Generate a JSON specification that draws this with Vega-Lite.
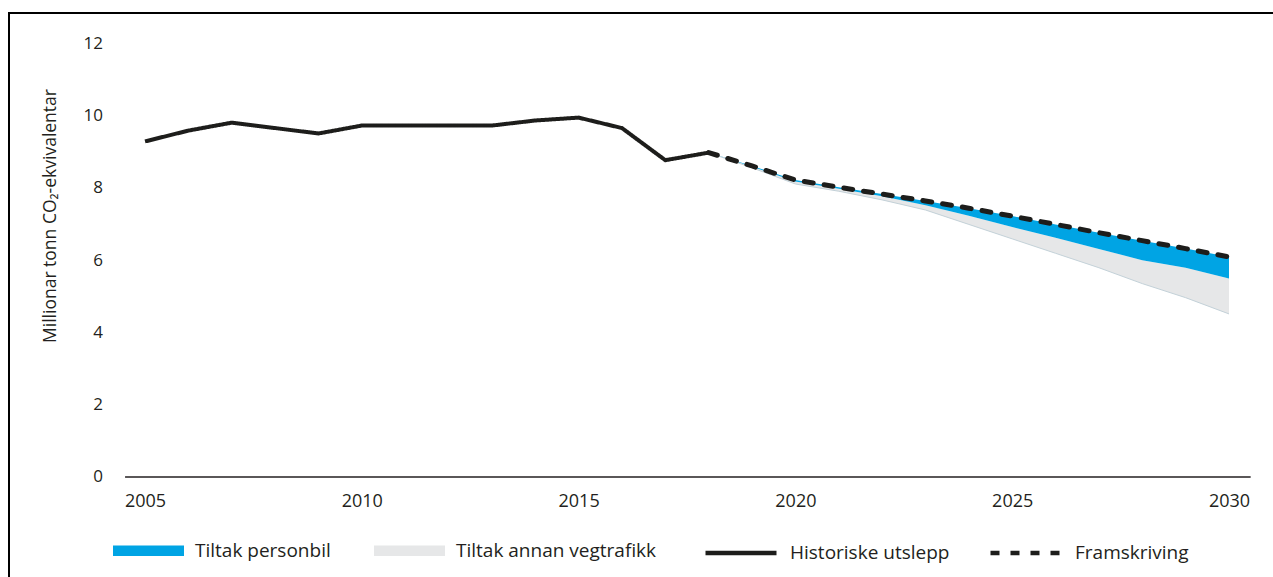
{
  "$schema": "https://vega.github.io/schema/vega-lite/v6.json",
  "width": 1264,
  "height": 564,
  "padding": {"left": 9, "top": 13, "right": 0, "bottom": 0},
  "autosize": {"type": "none"},
  "background": "white",
  "config": {
    "view": {"stroke": null},
    "font": "Open Sans",
    "axis": {"grid": false, "labelFont": "Open Sans", "titleFont": "Open Sans", "labelColor": "#231f20", "titleColor": "#231f20"},
    "legend": {"labelFont": "Open Sans", "labelFontSize": 19, "labelColor": "#231f20", "labelLimit": 400, "labelOffset": 11}
  },
  "datasets": {
    "hist": [
      {"year": 2005, "value": 9.3},
      {"year": 2006, "value": 9.6},
      {"year": 2007, "value": 9.82},
      {"year": 2008, "value": 9.67},
      {"year": 2009, "value": 9.52},
      {"year": 2010, "value": 9.74},
      {"year": 2011, "value": 9.74},
      {"year": 2012, "value": 9.74},
      {"year": 2013, "value": 9.74},
      {"year": 2014, "value": 9.88},
      {"year": 2015, "value": 9.96},
      {"year": 2016, "value": 9.67},
      {"year": 2017, "value": 8.78},
      {"year": 2018, "value": 8.99}
    ],
    "proj": [
      {"year": 2018, "hoy": 8.99, "midt": 8.99, "lav": 8.99},
      {"year": 2019, "hoy": 8.62, "midt": 8.6, "lav": 8.57},
      {"year": 2020, "hoy": 8.23, "midt": 8.19, "lav": 8.12},
      {"year": 2021, "hoy": 8.03, "midt": 7.99, "lav": 7.92},
      {"year": 2022, "hoy": 7.84, "midt": 7.78, "lav": 7.68},
      {"year": 2023, "hoy": 7.65, "midt": 7.53, "lav": 7.4},
      {"year": 2024, "hoy": 7.45, "midt": 7.24, "lav": 7.0},
      {"year": 2025, "hoy": 7.23, "midt": 6.93, "lav": 6.6},
      {"year": 2026, "hoy": 7.0, "midt": 6.63, "lav": 6.2},
      {"year": 2027, "hoy": 6.77, "midt": 6.32, "lav": 5.8},
      {"year": 2028, "hoy": 6.55, "midt": 6.01, "lav": 5.36},
      {"year": 2029, "hoy": 6.33, "midt": 5.8, "lav": 4.97},
      {"year": 2030, "hoy": 6.1, "midt": 5.5, "lav": 4.52}
    ],
    "base": [{"fra": 2004.54, "til": 2030.5, "null": 0}]
  },
  "resolve": {"axis": {"x": "independent"}},
  "layer": [
    {
      "data": {"name": "proj"},
      "mark": {"type": "area", "opacity": 1},
      "encoding": {
        "x": {"field": "year", "type": "quantitative",
          "scale": {"domain": [2001.863, 2031.015], "nice": false, "zero": false},
          "axis": {"orient": "top", "title": null, "labels": false, "ticks": false, "domain": true, "domainColor": "#000000", "domainWidth": 2, "domainCap": "square", "translate": 0, "grid": false}},
        "y": {"field": "lav", "type": "quantitative", "title": "Millionar tonn CO₂-ekvivalentar",
          "scale": {"domain": [-2.771, 12.859], "nice": false, "zero": false},
          "axis": {"orient": "left", "values": [0, 2, 4, 6, 8, 10, 12],
            "domain": true, "domainColor": "#000000", "domainWidth": 2, "domainCap": "square", "translate": 0,
            "ticks": false, "tickSize": 0, "labelPadding": -94, "labelAlign": "right", "labelBaseline": "middle", "labelFontSize": 17,
            "titleX": 42, "titleY": 203, "titleAngle": -90, "titleAlign": "center", "titleBaseline": "middle", "titleFontSize": 17.5, "titleFontWeight": "normal", "grid": false}},
        "y2": {"field": "midt"},
        "fill": {"datum": "Tiltak annan vegtrafikk", "type": "nominal",
          "scale": {"domain": ["Tiltak personbil", "Tiltak annan vegtrafikk"], "range": ["#00a4e4", "#e6e7e8"]},
          "legend": {"orient": "none", "legendX": 104, "legendY": 502, "direction": "horizontal", "columns": 2, "title": null,
            "symbolType": "M-1,-0.148H1V0.148H-1Z", "symbolSize": 5041, "symbolStrokeWidth": 0, "symbolOpacity": 1, "columnPadding": 43}
        }
      }
    },
    {
      "data": {"name": "proj"},
      "mark": {"type": "area", "opacity": 1},
      "encoding": {
        "x": {"field": "year", "type": "quantitative",
          "axis": {"orient": "bottom", "offset": -100, "title": null, "values": [2005, 2010, 2015, 2020, 2025, 2030], "format": "d",
            "domain": false, "ticks": false, "labelPadding": 15, "labelFontSize": 18, "grid": false, "labelFlush": false}},
        "y": {"field": "midt", "type": "quantitative", "title": "Millionar tonn CO₂-ekvivalentar"},
        "y2": {"field": "hoy"},
        "fill": {"datum": "Tiltak personbil", "type": "nominal"}
      }
    },
    {
      "data": {"name": "proj"},
      "mark": {"type": "line", "stroke": "#c3d1d8", "strokeWidth": 1},
      "encoding": {
        "x": {"field": "year", "type": "quantitative", "axis": null},
        "y": {"field": "lav", "type": "quantitative", "title": "Millionar tonn CO₂-ekvivalentar"}
      }
    },
    {
      "data": {"name": "base"},
      "mark": {"type": "rule", "color": "#231f20", "strokeWidth": 1.3},
      "encoding": {
        "x": {"field": "fra", "type": "quantitative", "axis": null},
        "x2": {"field": "til"},
        "y": {"field": "null", "type": "quantitative", "title": "Millionar tonn CO₂-ekvivalentar"}
      }
    },
    {
      "data": {"name": "hist"},
      "mark": {"type": "line", "strokeWidth": 4, "color": "#1d1d1b"},
      "encoding": {
        "x": {"field": "year", "type": "quantitative", "axis": null},
        "y": {"field": "value", "type": "quantitative", "title": "Millionar tonn CO₂-ekvivalentar"},
        "strokeDash": {"datum": "Historiske utslepp", "type": "nominal",
          "scale": {"domain": ["Historiske utslepp", "Framskriving"], "range": [[1, 0], [9, 11]]},
          "legend": {"orient": "none", "legendX": 694, "legendY": 502, "direction": "horizontal", "columns": 2, "title": null,
            "symbolType": "stroke", "symbolSize": 5041, "symbolStrokeWidth": 4.5, "symbolStrokeColor": "#1d1d1b", "symbolOpacity": 1, "columnPadding": 31}
        }
      }
    },
    {
      "data": {"name": "proj"},
      "mark": {"type": "line", "strokeWidth": 5, "strokeCap": "round", "color": "#1d1d1b"},
      "encoding": {
        "x": {"field": "year", "type": "quantitative", "axis": null},
        "y": {"field": "hoy", "type": "quantitative", "title": "Millionar tonn CO₂-ekvivalentar"},
        "strokeDash": {"datum": "Framskriving", "type": "nominal"}
      }
    }
  ]
}
